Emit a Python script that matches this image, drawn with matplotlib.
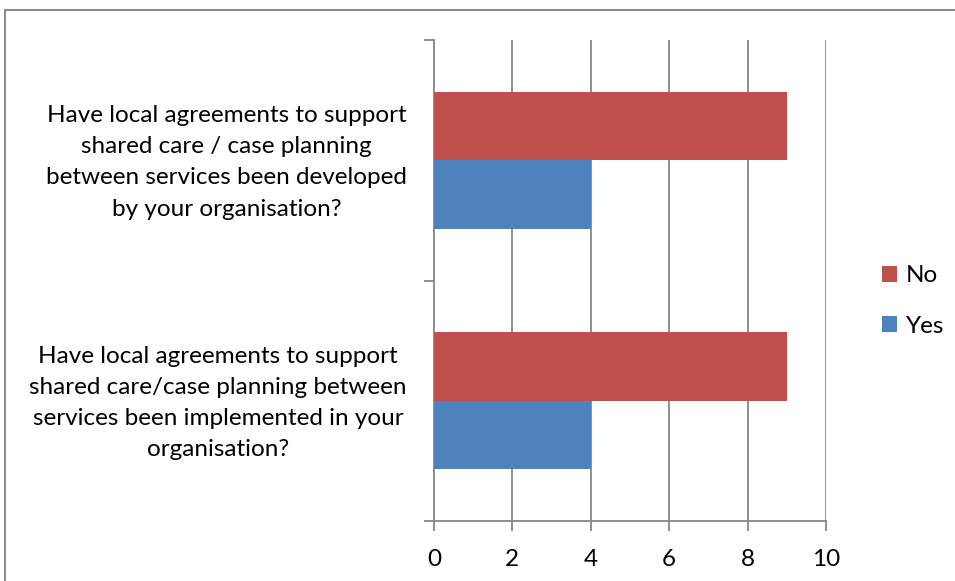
import matplotlib
matplotlib.use("Agg")
import matplotlib.pyplot as plt
import matplotlib.transforms as mtransforms
from matplotlib.patches import Rectangle

questions = [
    "Have local agreements to support\nshared care/case planning between\nservices been implemented in your\norganisation?",
    "Have local agreements to support\nshared care / case planning\nbetween services been developed\nby your organisation?",
]
series_names = ["Yes", "No"]
yes_counts = [4, 4]
no_counts = [9, 9]
x_ticks = [0, 2, 4, 6, 8, 10]

colors = {"Yes": "#4F81BD", "No": "#C0504D"}
grid_color = "#868686"

plt.rcParams["font.family"] = ["Lato", "DejaVu Sans"]
FS = 17.5

W, H = 955, 581
fig = plt.figure(figsize=(W / 100, H / 100), dpi=100)
ax = fig.add_axes([434 / W, (H - 521) / H, (826 - 434) / W, (521 - 40) / H])

bar_h = 1 / 3.5
centers = [0.5, 1.5]
for i, c in enumerate(centers):
    ax.barh(c - bar_h / 2, yes_counts[i], height=bar_h, color=colors["Yes"],
            label="Yes" if i == 0 else None, zorder=3)
    ax.barh(c + bar_h / 2, no_counts[i], height=bar_h, color=colors["No"],
            label="No" if i == 0 else None, zorder=3)

ax.set_xlim(0, 10)
ax.set_ylim(0, 2)
ax.set_xticks(x_ticks)
ax.set_xticklabels([str(t) for t in x_ticks], fontsize=FS)
ax.set_yticks([0, 1, 2])
ax.set_yticklabels([])
ax.set_yticks(centers, minor=True)
ax.set_yticklabels(questions, minor=True, fontsize=FS, multialignment="center",
                   linespacing=1.6)
ax.tick_params(axis="y", which="minor", length=0, pad=19.5)
ax.tick_params(axis="y", which="major", length=7, width=1.3, color=grid_color, direction="out")
ax.tick_params(axis="x", length=7, width=1.3, color=grid_color, direction="out", pad=13)

# nudge the question labels up a few pixels
nudge = mtransforms.ScaledTranslation(0, 5 / 100, fig.dpi_scale_trans)
for lbl in ax.get_yticklabels(minor=True):
    lbl.set_transform(lbl.get_transform() + nudge)

for t in x_ticks[1:]:
    ax.axvline(t, color=grid_color, lw=1.3, zorder=1)

for s in ["top", "right"]:
    ax.spines[s].set_visible(False)
for s in ["left", "bottom"]:
    ax.spines[s].set_color(grid_color)
    ax.spines[s].set_linewidth(1.3)

handles, labels = ax.get_legend_handles_labels()
order = [labels.index("No"), labels.index("Yes")]
ax.legend([handles[k] for k in order], [labels[k] for k in order],
          loc="center left", bbox_to_anchor=(860 / W, (H - 301) / H), bbox_transform=fig.transFigure,
          frameon=False, fontsize=FS, handlelength=0.64, handleheight=0.64,
          handletextpad=0.35, labelspacing=1.22)

fig.patches.append(Rectangle((5 / W, -0.01), 1.0, (H - 10) / H + 0.01, transform=fig.transFigure,
                             fill=False, edgecolor="#8C8C8C", lw=1.5))

fig.savefig("out.png", dpi=100)
